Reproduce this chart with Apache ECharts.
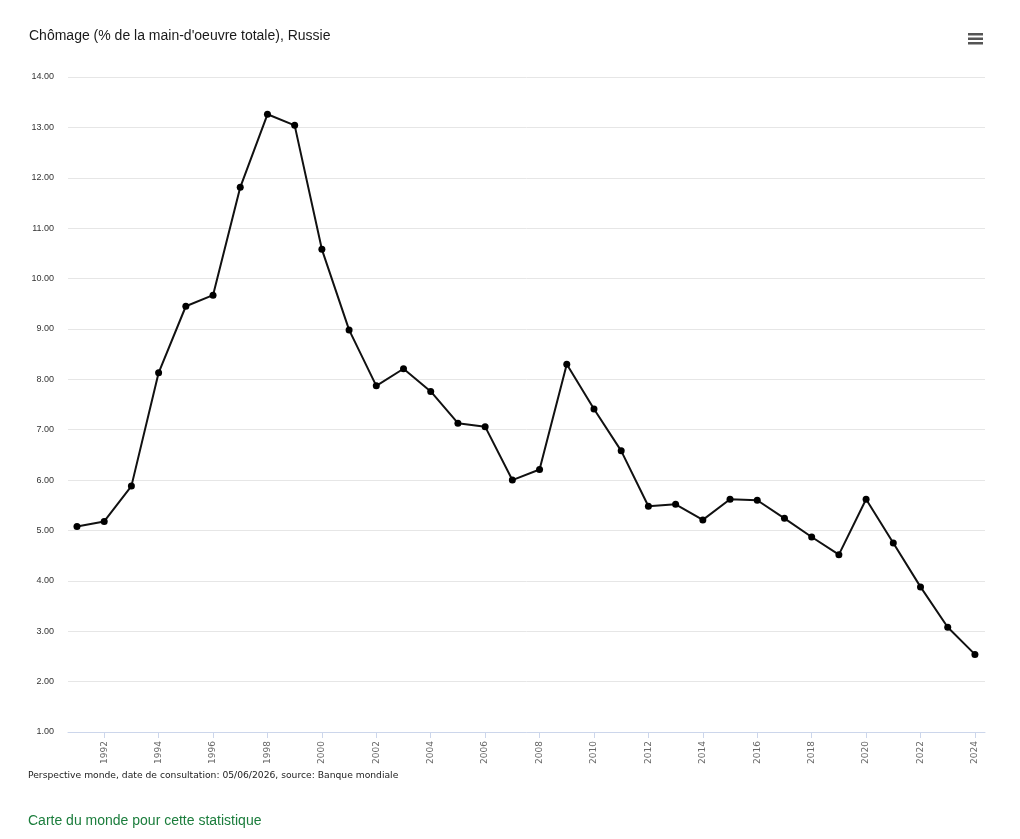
<!DOCTYPE html>
<html>
<head>
<meta charset="utf-8">
<script src="https://cdn.jsdelivr.net/npm/echarts@6/dist/echarts.min.js"></script>
<style>
  html, body { margin: 0; padding: 0; background: #fff; }
  #chart { width: 1020px; height: 839px; }
</style>
</head>
<body>
<div id="chart"></div>
<script>
const years = [1991, 1992, 1993, 1994, 1995, 1996, 1997, 1998, 1999, 2000,
  2001, 2002, 2003, 2004, 2005, 2006, 2007, 2008, 2009, 2010,
  2011, 2012, 2013, 2014, 2015, 2016, 2017, 2018, 2019, 2020,
  2021, 2022, 2023, 2024]
const unemployment = [5.08, 5.18, 5.88, 8.13, 9.45, 9.67, 11.81, 13.26, 13.04, 10.58,
  8.98, 7.87, 8.21, 7.76, 7.13, 7.06, 6.0, 6.21, 8.3, 7.41,
  6.58, 5.48, 5.52, 5.21, 5.62, 5.60, 5.24, 4.87, 4.52, 5.62,
  4.75, 3.88, 3.08, 2.54]
const yearTicks = [1992, 1994, 1996, 1998, 2000, 2002, 2004, 2006, 2008, 2010,
  2012, 2014, 2016, 2018, 2020, 2022, 2024]

const chart = echarts.init(document.getElementById('chart'))

const option = {
  animation: false,
  title: {
    text: "Chômage (% de la main-d'oeuvre totale), Russie",
    left: 24,
    top: 24,
    textStyle: { fontFamily: 'Liberation Sans', fontSize: 14, fontWeight: 'normal', color: '#1a1a1a' }
  },
  grid: { left: 68, right: 35, top: 77, bottom: 107, containLabel: false },
  xAxis: {
    type: 'value',
    min: 1990.67,
    max: 2024.37,
    splitLine: { show: false },
    axisLine: { lineStyle: { color: '#ccd6eb' } },
    axisTick: { show: true, length: 6, lineStyle: { color: '#ccd6eb' }, customValues: yearTicks },
    axisLabel: {
      customValues: yearTicks,
      rotate: 90,
      margin: 9,
      color: '#666',
      fontFamily: 'DejaVu Sans',
      fontSize: 9,
      formatter: v => String(v)
    }
  },
  yAxis: {
    type: 'value',
    min: 1,
    max: 14,
    interval: 1,
    axisLine: { show: false },
    axisTick: { show: false },
    splitLine: { lineStyle: { color: '#e6e6e6' } },
    axisLabel: {
      margin: 14,
      color: '#333',
      fontFamily: 'Liberation Sans',
      fontSize: 9,
      formatter: v => v.toFixed(2)
    }
  },
  series: [{
    type: 'line',
    data: years.map((y, i) => [y, unemployment[i]]),
    symbol: 'circle',
    symbolSize: 7,
    lineStyle: { color: '#111', width: 2 },
    itemStyle: { color: '#000' }
  }],
  graphic: [
    { type: 'rect', left: 968, top: 33, shape: { width: 15, height: 2.5 }, style: { fill: '#555' } },
    { type: 'rect', left: 968, top: 37.5, shape: { width: 15, height: 2.5 }, style: { fill: '#555' } },
    { type: 'rect', left: 968, top: 42, shape: { width: 15, height: 2.5 }, style: { fill: '#555' } },
    {
      type: 'text', left: 28, top: 771,
      style: {
        text: 'Perspective monde, date de consultation: 05/06/2026, source: Banque mondiale',
        fontFamily: 'DejaVu Sans', fontSize: 9.2, fill: '#222'
      }
    },
    {
      type: 'text', left: 28, top: 814,
      style: {
        text: 'Carte du monde pour cette statistique',
        fontFamily: 'Liberation Sans', fontSize: 14, fill: '#1b7d3c'
      }
    }
  ]
}

chart.setOption(option)
</script>
</body>
</html>
